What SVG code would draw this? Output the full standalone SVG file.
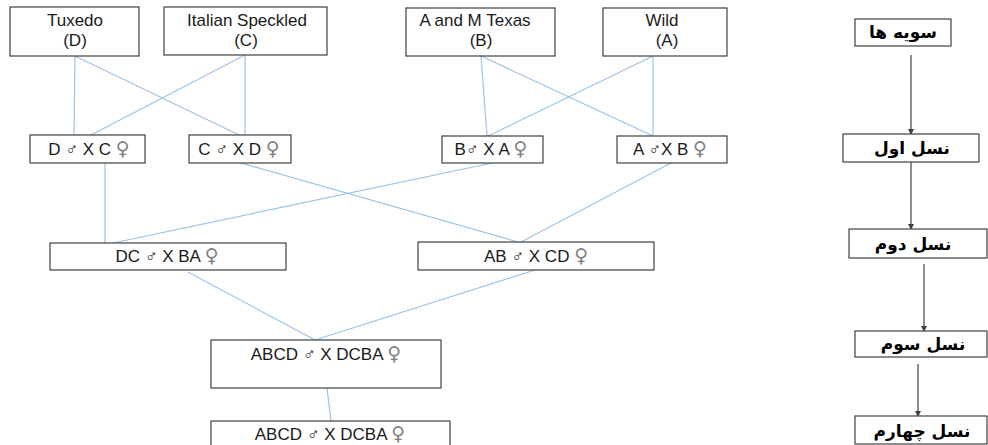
<svg xmlns="http://www.w3.org/2000/svg" width="988" height="445" viewBox="0 0 988 445">
<style>
.box{fill:#fff;stroke:#404040;stroke-width:1.2}
.t{font-family:"Liberation Sans",Arial,sans-serif;font-size:17px;fill:#1a1a1a;text-anchor:middle}
.f{fill:#808080;font-family:"DejaVu Sans",sans-serif;font-size:19px}
.link{stroke:#9dc3e6;stroke-width:1.2;fill:none}
.arr{stroke:#404040;stroke-width:1.2;fill:none;marker-end:url(#ah)}
.ar{font-family:"DejaVu Sans",sans-serif;font-weight:bold;font-size:17px;fill:#000;text-anchor:middle}
</style>
<defs>
<marker id="ah" markerWidth="6" markerHeight="6" refX="5" refY="3" orient="auto" markerUnits="userSpaceOnUse">
<path d="M0,0 L6,3 L0,6 Z" fill="#404040"/>
</marker>
</defs>
<rect width="988" height="445" fill="#fff"/>
<g id="connectors">
<line class="link" x1="75" y1="56" x2="74" y2="135"/>
<line class="link" x1="75" y1="56" x2="239" y2="135"/>
<line class="link" x1="245" y1="55" x2="245" y2="135"/>
<line class="link" x1="245" y1="55" x2="91" y2="135"/>
<line class="link" x1="481" y1="56" x2="487" y2="136"/>
<line class="link" x1="481" y1="56" x2="653" y2="136"/>
<line class="link" x1="653" y1="56" x2="653" y2="136"/>
<line class="link" x1="653" y1="56" x2="488" y2="136"/>
<line class="link" x1="105" y1="163" x2="105" y2="243"/>
<line class="link" x1="492" y1="163" x2="113" y2="243"/>
<line class="link" x1="241" y1="163" x2="518" y2="242"/>
<line class="link" x1="671" y1="163" x2="521" y2="242"/>
<line class="link" x1="188" y1="272" x2="315" y2="340"/>
<line class="link" x1="535" y1="270" x2="315" y2="340"/>
<line class="link" x1="327" y1="388" x2="331" y2="421"/>
<line class="arr" x1="911" y1="55" x2="911" y2="134"/>
<line class="arr" x1="911" y1="162" x2="911" y2="229"/>
<line class="arr" x1="924" y1="264" x2="924" y2="331"/>
<line class="arr" x1="918" y1="364" x2="918" y2="416"/>
</g>
<g id="tuxedo"><rect class="box" x="10" y="7" width="129" height="49"/><text class="t" x="75" y="26">Tuxedo</text><text class="t" x="75" y="46">(D)</text></g>
<g id="italian"><rect class="box" x="164" y="7" width="163" height="48"/><text class="t" x="247" y="26">Italian Speckled</text><text class="t" x="246" y="46">(C)</text></g>
<g id="texas"><rect class="box" x="406" y="8" width="149" height="48"/><text class="t" x="475" y="26">A and M Texas</text><text class="t" x="481" y="46">(B)</text></g>
<g id="wild"><rect class="box" x="603" y="8" width="124" height="48"/><text class="t" x="662" y="26">Wild</text><text class="t" x="667" y="46">(A)</text></g>
<g id="dxc"><rect class="box" x="30" y="135" width="115" height="28"/><text class="t" x="89" y="155">D ♂ X C <tspan class="f">♀</tspan></text></g>
<g id="cxd"><rect class="box" x="189" y="135" width="102" height="28"/><text class="t" x="239" y="155">C ♂ X D <tspan class="f">♀</tspan></text></g>
<g id="bxa"><rect class="box" x="442" y="136" width="101" height="27"/><text class="t" x="491" y="155">B♂ X A <tspan class="f">♀</tspan></text></g>
<g id="axb"><rect class="box" x="617" y="136" width="110" height="27"/><text class="t" x="670" y="155">A ♂X B <tspan class="f">♀</tspan></text></g>
<g id="dcba"><rect class="box" x="50" y="243" width="236" height="27"/><text class="t" x="167" y="262">DC ♂ X BA <tspan class="f">♀</tspan></text></g>
<g id="abcd"><rect class="box" x="418" y="242" width="236" height="28"/><text class="t" x="536" y="262">AB ♂ X CD <tspan class="f">♀</tspan></text></g>
<g id="abcd1"><rect class="box" x="211" y="340" width="230" height="48"/><text class="t" x="326" y="360">ABCD ♂ X DCBA <tspan class="f">♀</tspan></text></g>
<g id="abcd2"><rect class="box" x="211" y="421" width="239" height="40"/><text class="t" x="330" y="440">ABCD ♂ X DCBA <tspan class="f">♀</tspan></text></g>
<g id="strains"><rect class="box" x="855" y="19" width="96" height="27"/><text class="ar" x="903" y="38">سویه ها</text></g>
<g id="gen1"><rect class="box" x="843" y="134" width="136" height="28"/><text class="ar" x="912" y="154">نسل اول</text></g>
<g id="gen2"><rect class="box" x="849" y="229" width="138" height="29"/><text class="ar" x="913" y="250">نسل دوم</text></g>
<g id="gen3"><rect class="box" x="855" y="331" width="132" height="26"/><text class="ar" x="923" y="350">نسل سوم</text></g>
<g id="gen4"><rect class="box" x="855" y="416" width="132" height="28"/><text class="ar" x="922" y="437">نسل چهارم</text></g>
</svg>
